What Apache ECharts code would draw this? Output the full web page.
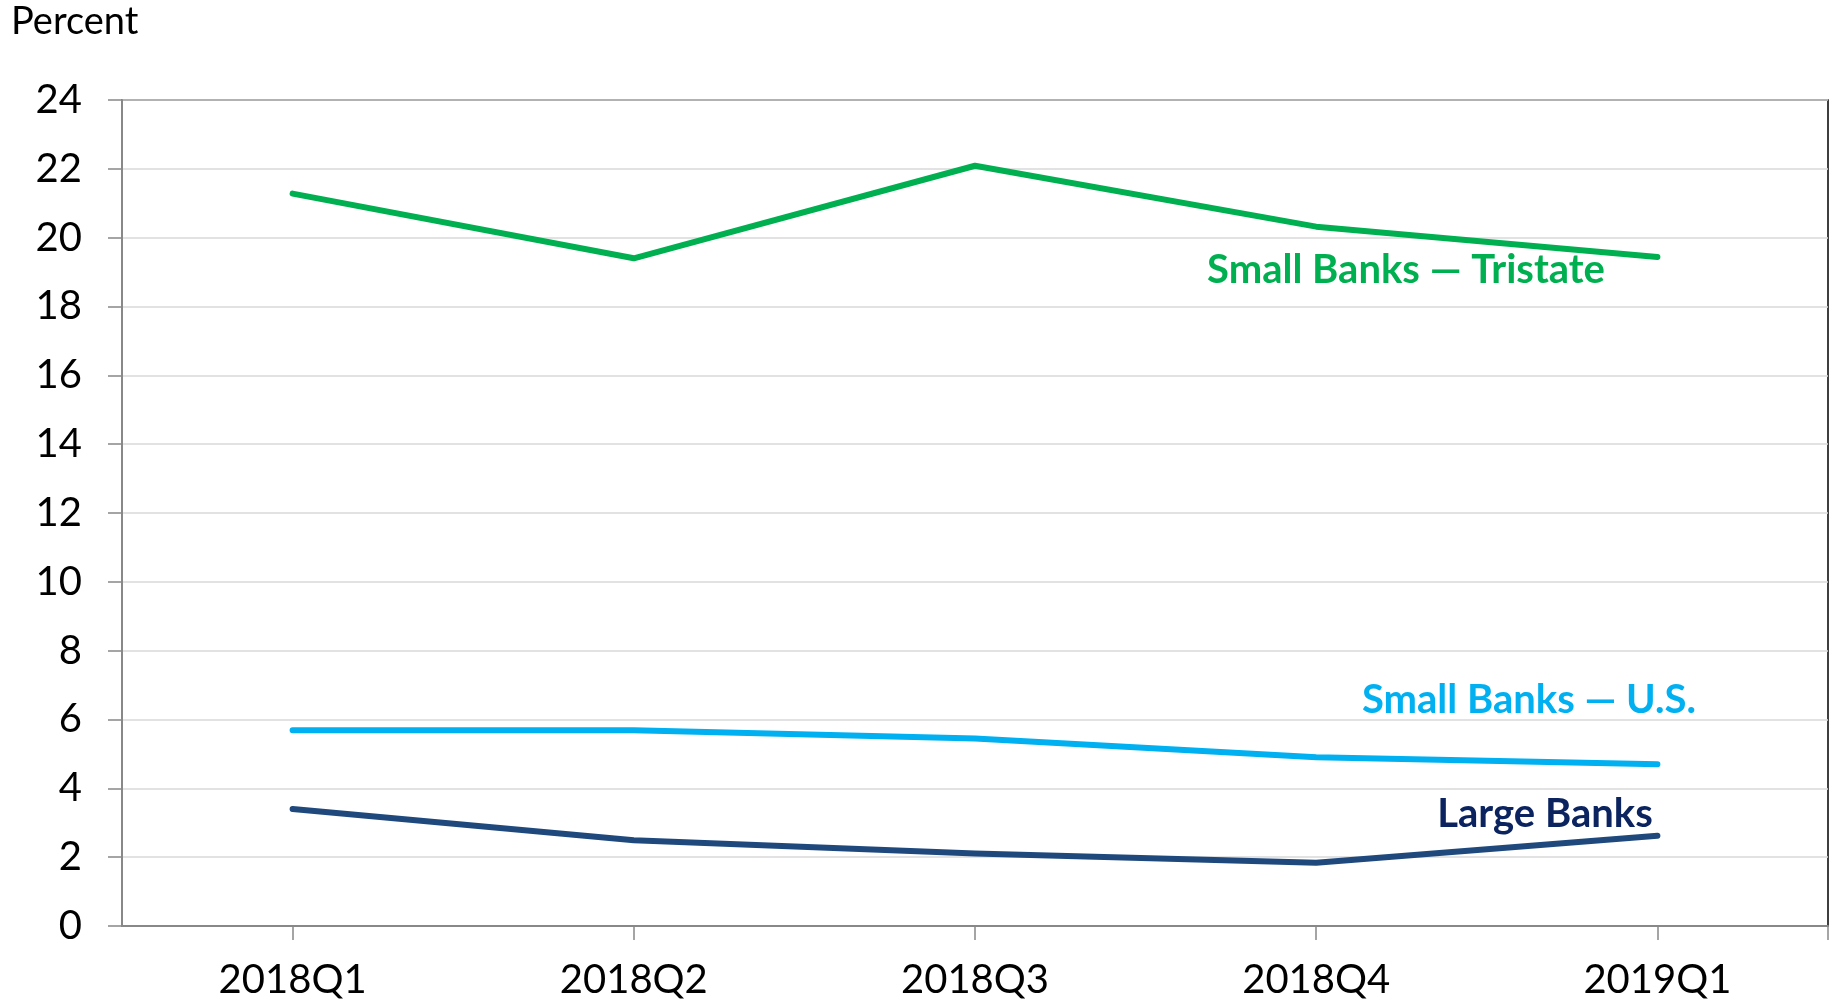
<!DOCTYPE html>
<html>
<head>
<meta charset="utf-8">
<script src="https://cdn.jsdelivr.net/npm/echarts@6/dist/echarts.min.js"></script>
<style>
html,body{margin:0;padding:0;background:#fff;}
#chart{width:1837px;height:1003px;}
</style>
</head>
<body>
<div id="chart"></div>
<script>
const categories = ['2018Q1', '2018Q2', '2018Q3', '2018Q4', '2019Q1'];
const smallTristate = [21.28, 19.40, 22.09, 20.32, 19.44];
const smallUS = [5.69, 5.69, 5.45, 4.90, 4.70];
const largeBanks = [3.40, 2.49, 2.11, 1.84, 2.62];
const yTicks = [0, 2, 4, 6, 8, 10, 12, 14, 16, 18, 20, 22, 24];

const FONT = 'Lato';
const chart = echarts.init(document.getElementById('chart'), null, {renderer: 'canvas'});

function lineSeries(name, data, color) {
  return {
    name: name, type: 'line', data: data, symbol: 'none',
    lineStyle: {color: color, width: 6, cap: 'round', join: 'round'},
    itemStyle: {color: color}, animation: false
  };
}

chart.setOption({
  animation: false,
  grid: {left: 122, right: 9, top: 100, bottom: 77, show: true, borderColor: '#000', borderWidth: 1.5, backgroundColor: 'transparent'},
  xAxis: {
    type: 'category', data: categories, boundaryGap: true,
    axisLine: {lineStyle: {color: '#888', width: 2}},
    axisTick: {show: true, alignWithLabel: true, length: 14, inside: false, lineStyle: {color: '#888', width: 1.5}},
    axisLabel: {color: '#000', fontFamily: FONT, fontSize: 40, margin: 34},
    splitLine: {show: false}
  },
  yAxis: {
    type: 'value', min: yTicks[0], max: yTicks[yTicks.length - 1], interval: 2,
    axisLine: {show: true, lineStyle: {color: '#888', width: 2}},
    axisTick: {show: true, length: 14, lineStyle: {color: '#888', width: 1.5}},
    axisLabel: {color: '#000', fontFamily: FONT, fontSize: 40, margin: 40},
    splitLine: {show: true, lineStyle: {color: '#d9d9d9', width: 1.5}}
  },
  series: [
    lineSeries('Small Banks — Tristate', smallTristate, '#00b050'),
    lineSeries('Small Banks — U.S.', smallUS, '#00b0f0'),
    lineSeries('Large Banks', largeBanks, '#1f497d')
  ],
  graphic: [
    {type: 'text', left: 11, top: 3, style: {text: 'Percent', font: '38px Lato', fill: '#000'}},
    {type: 'line', shape: {x1: 1828, y1: 926, x2: 1828, y2: 940}, style: {stroke: '#888', lineWidth: 1.5}},
    {type: 'text', x: 1406, y: 270, style: {text: 'Small Banks — Tristate', font: 'bold 40px Lato', fill: '#00b050', align: 'center', verticalAlign: 'middle'}},
    {type: 'text', x: 1529, y: 700, style: {text: 'Small Banks — U.S.', font: 'bold 40px Lato', fill: '#00b0f0', align: 'center', verticalAlign: 'middle'}},
    {type: 'text', x: 1545, y: 814, style: {text: 'Large Banks', font: 'bold 40px Lato', fill: '#0b2460', align: 'center', verticalAlign: 'middle'}}
  ]
});
</script>
</body>
</html>
